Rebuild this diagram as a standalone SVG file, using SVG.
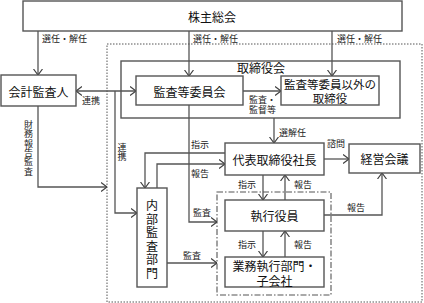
<svg xmlns="http://www.w3.org/2000/svg" width="424" height="303" viewBox="0 0 424 303">
<defs>
<marker id="arr" viewBox="0 0 6 10" refX="6" refY="5" markerWidth="6" markerHeight="10" markerUnits="userSpaceOnUse" orient="auto-start-reverse">
<path d="M0,0.5 L6,5 L0,9.5" fill="none" stroke="#404040" stroke-width="1.2"/>
</marker>
</defs>
<style>
.box{fill:#fff;stroke:#555;stroke-width:1.4}
.frame{fill:none;stroke:#555;stroke-width:1.4}
.ln{fill:none;stroke:#555;stroke-width:1.3}
.t{font-family:"Noto Sans CJK JP","Noto Sans",sans-serif;font-size:12px;fill:#111;text-anchor:middle;dominant-baseline:central}
.s{font-family:"Noto Sans CJK JP","Noto Sans",sans-serif;font-size:9px;fill:#222;dominant-baseline:central}
.c{text-anchor:middle}
.v{writing-mode:vertical-rl;text-anchor:middle;dominant-baseline:central}
</style>
<rect x="0" y="0" width="424" height="303" fill="#fff"/>
<rect x="107" y="44" width="315" height="258" fill="none" stroke="#555" stroke-width="1" stroke-dasharray="1.5,1.5"/>
<g id="board">
<rect class="frame" x="121" y="61" width="279" height="57"/>
<text class="t" x="261" y="67.5">取締役会</text>
</g>
<rect x="217" y="192" width="114" height="103" fill="none" stroke="#555" stroke-width="1.1" stroke-dasharray="6,2,1.5,2"/>
<g id="connectors">
<path class="ln" d="M38,31 V75" marker-end="url(#arr)"/>
<path class="ln" d="M189,31 V76" marker-end="url(#arr)"/>
<path class="ln" d="M332,31 V76" marker-end="url(#arr)"/>
<text class="s" x="42" y="38">選任・解任</text>
<text class="s" x="193" y="38">選任・解任</text>
<text class="s" x="337" y="38">選任・解任</text>
<path class="ln" d="M76,91 H136" marker-start="url(#arr)" marker-end="url(#arr)"/>
<text class="s c" x="91" y="100">連携</text>
<path class="ln" d="M115,91 V213 H137" marker-end="url(#arr)"/>
<text class="s v" x="122" y="152">連携</text>
<path class="ln" d="M38,106 V187 H107" marker-end="url(#arr)"/>
<text class="s v" x="28.5" y="148" style="letter-spacing:0.3px">財務報告監査</text>
<path class="ln" d="M243,91 H281" marker-end="url(#arr)"/>
<text class="s"><tspan x="249" y="99">監査・</tspan><tspan x="249" y="109">監督等</tspan></text>
<path class="ln" d="M274,118 V143" marker-end="url(#arr)"/>
<text class="s" x="279" y="132">選解任</text>
<path class="ln" d="M225,153 H145 V188" marker-end="url(#arr)"/>
<text class="s c" x="200" y="144">指示</text>
<path class="ln" d="M157,188 V164 H225" marker-end="url(#arr)"/>
<text class="s c" x="200" y="173">報告</text>
<path class="ln" d="M189,105 V222 H217" marker-end="url(#arr)"/>
<text class="s c" x="202" y="212">監査</text>
<path class="ln" d="M167,263 H217" marker-end="url(#arr)"/>
<text class="s c" x="192" y="255">監査</text>
<path class="ln" d="M324,159 H349" marker-end="url(#arr)"/>
<text class="s c" x="336" y="143">諮問</text>
<path class="ln" d="M263,175 V200" marker-end="url(#arr)"/>
<text class="s c" x="247" y="184">指示</text>
<path class="ln" d="M285,200 V175" marker-end="url(#arr)"/>
<text class="s c" x="303" y="184">報告</text>
<path class="ln" d="M263,231 V257" marker-end="url(#arr)"/>
<text class="s c" x="247" y="244">指示</text>
<path class="ln" d="M285,257 V231" marker-end="url(#arr)"/>
<text class="s c" x="303" y="244">報告</text>
<path class="ln" d="M324,215 H382 V173" marker-end="url(#arr)"/>
<text class="s c" x="356" y="207">報告</text>
</g>
<g id="shareholders">
<rect class="box" x="23" y="1" width="379" height="30"/>
<text class="t" x="212" y="16.5">株主総会</text>
</g>
<g id="auditor">
<rect class="box" x="1" y="75" width="75" height="31"/>
<text class="t" x="38.5" y="91">会計監査人</text>
</g>
<g id="committee">
<rect class="box" x="136" y="76" width="107" height="29"/>
<text class="t" x="189.5" y="91">監査等委員会</text>
</g>
<g id="otherdirectors">
<rect class="box" x="281" y="76" width="98" height="29"/>
<text class="t" style="font-size:11.5px"><tspan x="330" y="84">監査等委員以外の</tspan><tspan x="330" y="97.5">取締役</tspan></text>
</g>
<g id="ceo">
<rect class="box" x="225" y="143" width="99" height="32"/>
<text class="t" x="274.5" y="159">代表取締役社長</text>
</g>
<g id="mgmt">
<rect class="box" x="349" y="144" width="71" height="29"/>
<text class="t" x="384.5" y="158.5">経営会議</text>
</g>
<g id="internalaudit">
<rect class="box" x="137" y="188" width="30" height="99"/>
<text class="t v" x="152" y="240" style="letter-spacing:1.5px">内部監査部門</text>
</g>
<g id="exec">
<rect class="box" x="225" y="200" width="99" height="31"/>
<text class="t" x="274.5" y="215.5">執行役員</text>
</g>
<g id="business">
<rect class="box" x="225" y="257" width="99" height="30"/>
<text class="t"><tspan x="274.5" y="265">業務執行部門・</tspan><tspan x="274.5" y="280">子会社</tspan></text>
</g>
</svg>
